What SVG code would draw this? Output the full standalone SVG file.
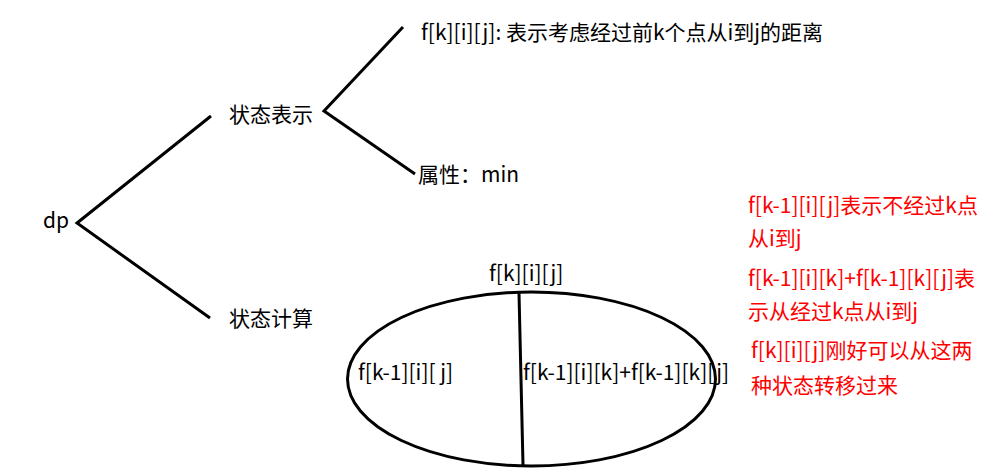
<svg xmlns="http://www.w3.org/2000/svg" width="990" height="471" viewBox="0 0 990 471">
<style>
text{font-family:"Noto Sans CJK SC","Liberation Sans",sans-serif;font-size:21px;fill:#000}
.r{fill:#ff0000}
.ln{stroke:#000;stroke-width:3;fill:none}
</style>
<rect width="990" height="471" fill="#fff"/>
<g id="connectors">
<polyline class="ln" points="211,116 77,223 210,318"/>
<polyline class="ln" points="403,27 324,111 415,174"/>
</g>
<g id="dp"><text x="43" y="228">dp</text></g>
<g id="state-rep"><text x="229" y="122">状态表示</text></g>
<g id="def"><text x="421" y="40">f[k][i][j]: 表示考虑经过前k个点从i到j的距离</text></g>
<g id="attr"><text x="418" y="182">属性：min</text></g>
<g id="state-calc"><text x="229" y="326">状态计算</text></g>
<g id="set">
<ellipse class="ln" cx="531.5" cy="379" rx="184" ry="87"/>
<line class="ln" x1="519" y1="293" x2="523" y2="465"/>
<text x="489" y="281">f[k][i][j]</text>
<text x="358" y="380">f[k-1][i][ j]</text>
<text x="523" y="380">f[k-1][i][k]+f[k-1][k][j]</text>
</g>
<g id="notes">
<text class="r" x="748" y="213">f[k-1][i][j]表示不经过k点</text>
<text class="r" x="748" y="246">从i到j</text>
<text class="r" x="748" y="286">f[k-1][i][k]+f[k-1][k][j]表</text>
<text class="r" x="748" y="319">示从经过k点从i到j</text>
<text class="r" x="751" y="358">f[k][i][j]刚好可以从这两</text>
<text class="r" x="751" y="393">种状态转移过来</text>
</g>
</svg>
